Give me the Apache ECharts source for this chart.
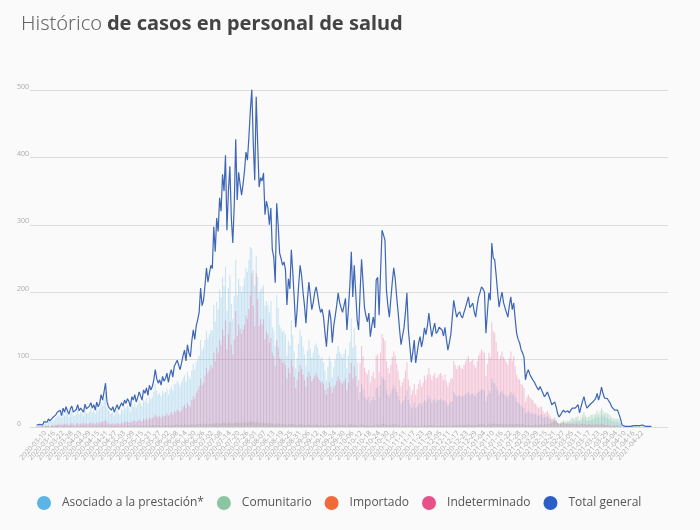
<!DOCTYPE html>
<html><head><meta charset="utf-8">
<script src="https://cdn.jsdelivr.net/npm/echarts@6/dist/echarts.min.js"></script>
<style>html,body{margin:0;padding:0;background:#fafafa}#c{width:700px;height:530px}</style>
</head><body><div id="c"></div>
<script>
// Categories: daily dates 2020-03-04 .. 2021-04-28
const startDate = '2020-03-04';
const dayCount = 421;
const categories = [];
(function(){const d0 = Date.UTC(2020,2,4);for(let i=0;i<dayCount;i++){const d=new Date(d0+i*86400000);categories.push(d.toISOString().slice(0,10));}})();

const yTicks = [0,100,200,300,400,500];

const totalGeneral = [
3,2,4,5,3,8,10,7,12,9,
11,14,12,18,22,20,25,17,28,22,
30,24,19,27,31,22,20,26,33,24,
28,30,22,34,27,25,31,36,28,33,
25,37,30,35,48,40,52,65,38,30,
28,25,30,22,28,33,26,24,36,31,
40,35,42,38,30,45,40,48,37,44,
52,46,40,55,50,58,47,62,55,60,
70,85,72,65,70,62,75,68,72,80,
66,78,85,74,90,88,99,92,85,95,
106,114,98,122,110,104,128,144,130,150,
159,170,206,180,188,210,236,215,228,240,
235,297,260,310,290,340,320,375,350,403,
292,350,387,310,273,330,427,337,378,360,
344,360,380,408,396,430,470,501,420,366,
490,420,356,370,365,377,315,335,325,300,
325,263,252,214,332,300,258,250,240,245,
233,181,220,205,263,230,190,148,175,210,
240,225,200,180,154,190,215,195,174,185,
200,208,195,180,170,175,163,140,119,150,
174,160,125,150,165,180,199,185,177,170,
180,191,144,175,210,260,193,240,200,159,
144,200,249,215,177,165,156,169,134,150,
163,147,218,222,166,230,292,285,277,203,
180,163,190,215,236,220,193,170,144,122,
135,147,170,199,144,120,96,110,129,95,
110,125,134,119,130,147,137,150,169,150,
134,145,154,139,142,148,150,144,135,148,
130,114,125,137,137,188,175,163,168,171,
165,162,170,177,185,193,177,180,184,171,
163,180,193,200,208,205,200,139,170,199,
188,273,251,248,225,200,178,190,200,185,
177,170,163,180,193,174,184,160,139,130,
125,115,110,104,70,80,85,78,74,70,
67,65,58,55,60,62,50,45,48,52,
46,40,33,35,37,30,20,15,18,22,
25,22,20,24,21,25,28,26,28,30,
33,21,30,38,45,35,28,30,33,35,
37,37,42,50,40,48,59,50,43,45,
42,40,35,30,28,25,27,25,25,12,
3,2,1,2,1,2,1,3,2,1,
2,1,2,1,3,2,1,2,1,2,
1];

const asociado = [
3,2,3,4,3,6,8,5,9,8,
8,10,10,14,16,16,19,14,21,17,
23,19,15,20,24,17,17,19,26,19,
22,22,17,26,21,20,23,28,22,25,
20,28,24,28,37,31,41,52,29,24,
22,20,22,17,22,25,20,19,27,24,
30,27,32,29,23,34,30,35,29,33,
39,35,31,40,38,43,35,45,41,44,
52,64,54,48,51,46,54,50,52,57,
48,56,60,54,64,63,69,65,60,67,
73,77,67,82,75,71,84,94,85,96,
100,106,129,114,118,129,143,131,138,143,
143,181,157,186,175,204,193,223,209,238,
172,206,225,183,160,194,248,196,220,209,
200,209,221,236,230,248,267,265,233,210,
254,223,200,204,207,210,180,187,181,170,
187,148,143,120,196,177,151,146,141,143,
137,106,128,121,158,136,112,87,102,124,
144,135,119,107,91,113,129,116,103,110,
121,124,118,107,101,104,96,83,69,89,
105,97,73,89,100,109,120,112,108,103,
109,116,87,106,126,161,118,146,121,96,
40,52,64,56,46,42,40,45,36,40,
45,40,58,60,44,62,75,72,70,54,
48,44,50,56,62,58,52,46,40,34,
38,40,46,54,40,34,28,30,36,28,
30,34,36,32,36,40,38,42,46,42,
36,40,42,38,40,40,42,40,38,40,
36,32,34,38,38,52,48,45,46,47,
46,45,47,48,50,52,48,49,50,47,
45,50,52,54,56,55,54,38,46,54,
50,72,66,65,60,54,48,52,54,50,
48,46,44,48,52,47,50,44,38,36,
34,32,30,28,20,22,24,22,20,20,
20,19,17,16,18,18,15,14,15,16,
14,12,10,10,11,9,6,5,5,6,
7,6,6,7,6,7,7,8,8,8,
10,7,9,11,13,10,9,9,10,10,
12,12,14,16,13,15,18,16,14,14,
13,12,11,9,8,7,8,7,7,4,
1,1,1,1,1,1,1,1,1,1,
1,1,1,1,1,1,1,1,1,1,
1];

const comunitario = [
0,0,1,0,0,1,0,1,1,0,
1,1,0,1,2,1,1,0,2,1,
2,1,1,2,1,1,0,2,1,1,
1,2,1,2,1,1,2,1,1,2,
1,2,1,1,3,2,2,3,2,1,
1,1,2,1,1,2,1,1,2,1,
2,1,2,2,1,2,2,3,1,2,
2,2,1,3,2,2,2,3,2,3,
3,3,2,3,3,2,3,2,3,3,
2,3,3,2,3,3,4,3,3,3,
3,4,3,4,3,3,4,4,3,4,
4,4,5,4,4,5,5,4,5,5,
4,6,5,6,5,6,5,7,6,7,
5,6,7,5,5,6,7,6,6,6,
6,6,7,7,6,7,8,8,7,6,
8,7,6,6,6,7,5,6,6,5,
6,5,4,4,6,5,5,4,4,4,
4,3,4,4,5,4,4,3,3,4,
4,4,3,3,3,3,4,3,3,3,
3,4,3,3,3,3,3,2,2,3,
3,3,2,3,3,3,4,3,3,3,
3,3,2,3,4,4,3,4,3,3,
2,3,4,3,3,3,2,3,2,2,
3,2,4,4,3,4,5,5,4,3,
3,3,3,4,4,4,3,3,2,2,
2,2,3,3,2,2,2,2,2,2,
2,2,2,2,2,3,2,3,3,3,
2,3,3,2,2,3,3,2,2,3,
2,2,2,2,2,3,3,3,3,3,
3,3,3,3,3,4,3,3,3,3,
3,3,4,4,4,4,4,3,3,4,
4,5,5,5,4,4,4,4,4,4,
4,4,4,4,5,4,4,4,4,4,
4,4,4,4,3,3,4,3,3,3,
3,4,3,3,4,4,3,4,4,4,
4,5,6,8,8,9,7,6,7,8,
10,9,8,10,9,12,14,12,14,15,
16,10,14,18,22,17,14,15,16,18,
18,18,20,24,19,23,28,24,20,22,
20,19,17,14,13,12,13,12,12,6,
1,1,0,1,0,1,0,1,1,0,
1,0,1,0,1,1,0,1,0,1,
0];

const importado = [
1,1,0,1,1,0,0,1,0,0,
0,1,0,0,1,0,0,0,1,0,
0,0,0,0,0,0,0,0,0,0,
0,0,0,0,0,0,0,0,0,0,
0,0,0,0,0,0,0,0,0,0,
0,0,0,0,0,0,0,0,0,0,
0,0,0,0,0,0,0,0,0,0,
0,0,0,0,0,0,0,0,0,0,
0,0,0,0,0,0,0,0,0,0,
0,0,0,0,0,0,0,0,0,0,
0,0,0,0,0,0,0,0,0,0,
0,0,0,0,0,0,0,0,0,0,
0,0,0,0,0,0,0,0,0,0,
0,0,0,0,0,0,0,0,0,0,
0,0,0,0,0,0,0,0,0,0,
0,0,0,0,0,0,0,0,0,0,
0,0,0,0,0,0,0,0,0,0,
0,0,0,0,0,0,0,0,0,0,
0,0,0,0,0,0,0,0,0,0,
0,0,0,0,0,0,0,0,0,0,
0,0,0,0,0,0,0,0,0,0,
0,0,0,0,0,0,0,0,0,0,
0,0,0,0,0,0,0,0,0,0,
0,0,0,0,0,0,0,0,0,0,
0,0,0,0,0,0,0,0,0,0,
0,0,0,0,0,0,0,0,0,0,
0,0,0,0,0,0,0,0,0,0,
0,0,0,0,0,0,0,0,0,0,
0,0,0,0,0,0,0,0,0,0,
0,0,0,0,0,0,0,0,0,0,
0,0,0,0,0,0,0,0,0,0,
0,0,0,0,0,0,0,0,0,0,
0,0,0,0,0,0,0,0,0,0,
0,0,0,0,0,0,0,0,0,0,
0,0,0,0,0,0,0,0,0,0,
0,0,0,0,0,0,0,0,0,0,
0,0,0,0,0,0,0,0,0,0,
0,0,0,0,0,0,0,0,0,0,
0,0,0,0,0,0,0,0,0,0,
0,0,0,0,0,0,0,0,0,0,
0,0,0,0,0,0,0,0,0,0,
0,0,0,0,0,0,0,0,0,0,
0];

const indeterminado = [
0,0,0,1,0,1,2,1,2,1,
2,3,2,3,4,3,5,3,5,4,
5,4,3,5,6,4,3,5,6,4,
5,6,4,6,5,4,6,7,5,6,
4,7,5,6,8,7,9,10,7,5,
5,4,6,4,5,6,5,4,7,6,
8,7,8,7,6,9,8,10,7,9,
11,9,8,12,10,13,10,14,12,13,
15,18,16,14,16,14,18,16,17,20,
16,19,22,18,23,22,26,24,22,25,
30,33,28,36,32,30,40,46,42,50,
55,60,72,62,66,76,88,80,85,92,
88,110,98,118,110,130,122,145,135,158,
115,138,155,122,108,130,172,135,152,145,
138,145,152,165,160,175,195,228,180,150,
228,190,150,160,152,160,130,142,138,125,
132,110,105,90,130,118,102,100,95,98,
92,72,88,80,100,90,74,58,70,82,
92,86,78,70,60,74,82,76,68,72,
76,80,74,70,66,68,64,55,48,58,
66,60,50,58,62,68,75,70,66,64,
68,72,55,66,80,95,72,90,76,60,
70,95,120,105,88,82,78,85,66,75,
82,72,105,108,82,110,138,132,128,98,
88,80,92,104,112,106,94,84,70,60,
66,72,84,96,70,60,48,55,64,48,
56,64,70,60,66,76,70,78,88,78,
70,76,80,72,74,78,80,76,70,78,
68,60,66,72,72,98,92,86,90,92,
88,86,92,96,100,105,96,98,100,92,
88,98,106,110,115,112,110,76,94,110,
104,155,142,140,126,112,100,106,112,104,
100,96,92,102,112,98,105,90,78,72,
70,64,62,58,38,44,48,44,42,40,
36,34,30,28,30,30,24,20,22,24,
20,16,12,13,14,10,6,4,5,6,
6,5,4,5,4,4,5,4,4,5,
4,3,4,5,5,4,3,4,4,3,
4,3,4,5,3,4,5,4,3,3,
3,3,2,2,2,2,2,2,2,1,
0,0,0,0,0,0,0,0,0,0,
0,0,0,0,0,0,0,0,0,0,
0];

const seriesNames = ['Asociado a la prestación*','Comunitario','Importado','Indeterminado','Total general'];
const seriesColors = ['#5ab4e5','#8cc5a2','#f26a3a','#e8508a','#2c5ec8'];

const chart = echarts.init(document.getElementById('c'), null, {renderer:'canvas'});
const barOpacity = [0.3,0.45,0.45,0.3];
const barData = [asociado, comunitario, importado, indeterminado];
const series = barData.map((d,k)=>({
  name: seriesNames[k], type:'bar', xAxisIndex:0, yAxisIndex:0,
  data:d, barGap:'-100%', barCategoryGap:'25%',
  itemStyle:{color:seriesColors[k], opacity:barOpacity[k]},
  silent:true, animation:false
}));
series.push({
  name: seriesNames[4], type:'line', xAxisIndex:0, yAxisIndex:0,
  data: totalGeneral, symbol:'none', z:5,
  lineStyle:{color:'#3d66b6', width:1.2},
  itemStyle:{color:seriesColors[4]}, animation:false
});

chart.setOption({
  backgroundColor:'#fafafa',
  animation:false,
  title:{
    text:'{a|Histórico} {b|de casos en personal de salud}',
    left:16, top:9,
    textStyle:{rich:{
      a:{fontFamily:'Noto Sans',fontWeight:300,fontSize:20,color:'#666'},
      b:{fontFamily:'Noto Sans',fontWeight:'bold',fontSize:20,color:'#444'}
    }}
  },
  legend:{
    top:491, left:32, icon:'circle', itemWidth:14, itemHeight:14, itemGap:13,
    textStyle:{fontFamily:'Open Sans',fontSize:12,color:'#555',padding:[0,0,0,6]},
    data: seriesNames.map((n,k)=>({name:n, itemStyle:{color:seriesColors[k], opacity:1}}))
  },
  grid:[
    {left:36, right:48, top:90, bottom:103},
    {left:30, right:32, top:90, bottom:103}
  ],
  xAxis:[
    {type:'category', gridIndex:0, data:categories, boundaryGap:true,
     axisLine:{show:false}, axisTick:{show:false},
     axisLabel:{interval:5, rotate:48, fontSize:7, color:'#aaa', margin:5, fontFamily:'Open Sans'}},
    {type:'value', gridIndex:1, show:false, min:0, max:1}
  ],
  yAxis:[
    {type:'value', gridIndex:0, min:0, max:500, interval:100, show:false},
    {type:'value', gridIndex:1, min:yTicks[0], max:yTicks[yTicks.length-1], interval:100,
     axisLine:{show:false}, axisTick:{show:false},
     splitLine:{lineStyle:{color:'#dddddd', width:1}},
     axisLabel:{align:'left', margin:13, fontSize:7, color:'#aaa', verticalAlign:'bottom', fontFamily:'Open Sans'}}
  ],
  series: series
});
</script></body></html>
